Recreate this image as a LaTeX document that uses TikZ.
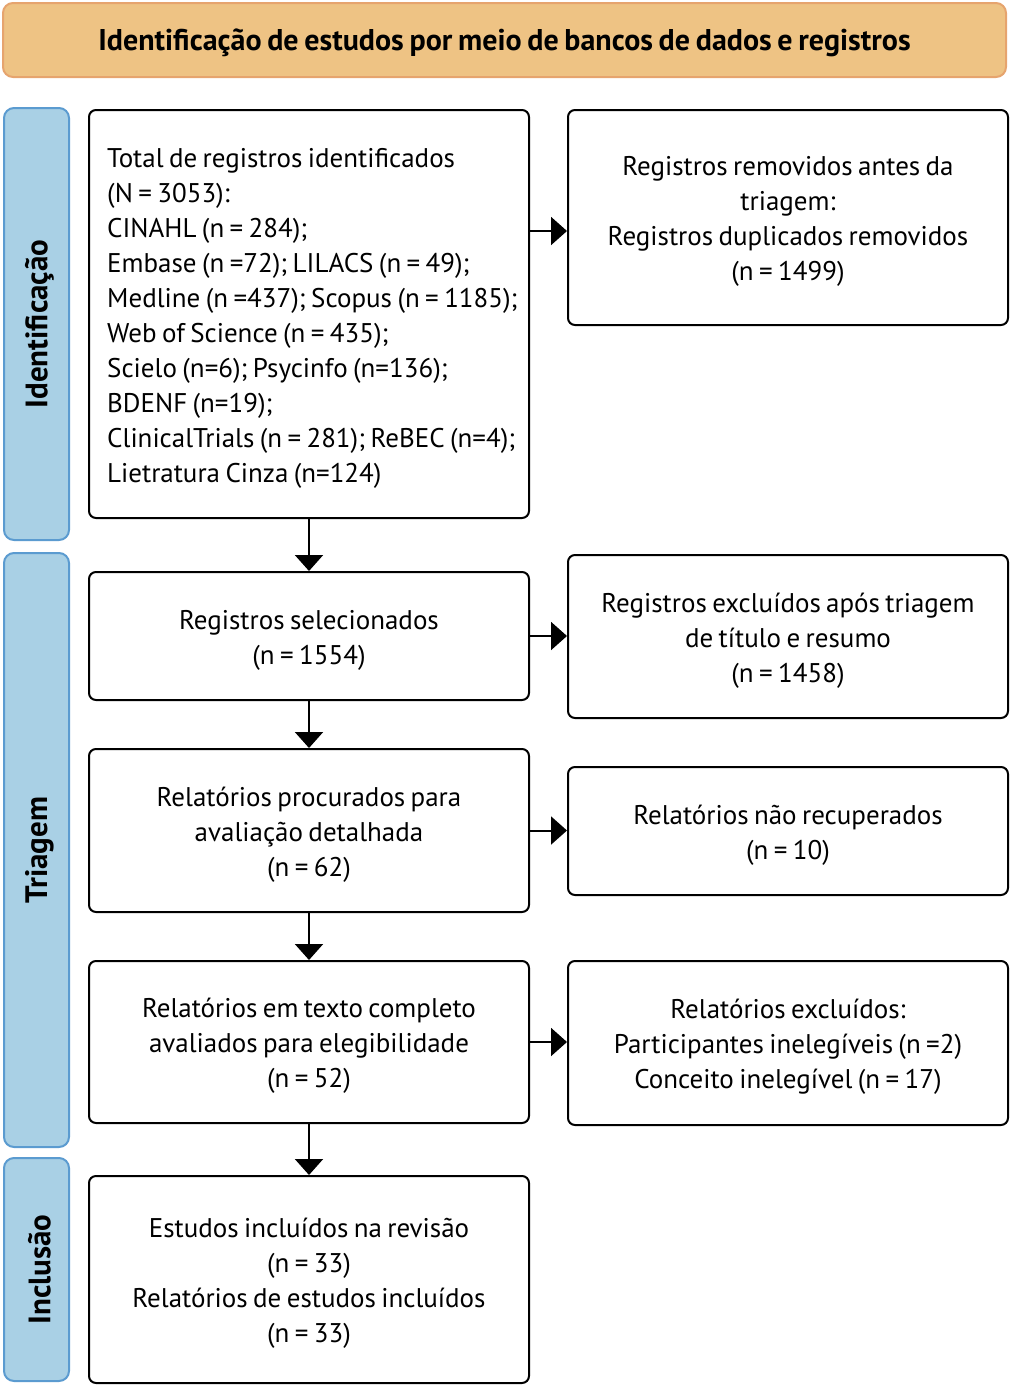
\documentclass[tikz,border=0pt]{standalone}
\usepackage{fontspec}
\setmainfont[WordSpace=0.75]{PT Sans}
\usetikzlibrary{arrows.meta}
\definecolor{hdrfill}{HTML}{EEC384}
\definecolor{hdrline}{HTML}{E6A46E}
\definecolor{sidefill}{HTML}{A9D0E5}
\definecolor{sideline}{HTML}{5B9BD0}
\begin{document}
\begin{tikzpicture}[x=1pt,y=-1pt,
  box/.style={draw=black,line width=2pt,rounded corners=7pt,fill=white,inner sep=0pt,minimum width=440pt},
  txt/.style={align=center,font=\fontsize{27}{35}\selectfont,inner sep=0pt},
  side/.style={draw=sideline,line width=2pt,rounded corners=10pt,fill=sidefill,minimum width=65pt,inner sep=0pt},
  sidelbl/.style={rotate=90,font=\fontsize{31}{34}\selectfont\bfseries,inner sep=0pt},
  arr/.style={line width=2pt,-{Triangle[length=16pt,width=28pt]}}]
\useasboundingbox (0,0) rectangle (1010,1385);
% header
\node[draw=hdrline,line width=2pt,rounded corners=10pt,fill=hdrfill,minimum width=1003pt,minimum height=74pt,inner sep=0pt] (hdr) at (504.5,40) {};
\node[font=\fontsize{30}{34}\selectfont\bfseries,inner sep=0pt] (hdrt) at ([yshift=-3pt]hdr.center) {Identificação de estudos por meio de bancos de dados e registros};
% side bars
\node[side,minimum height=432pt] (s1) at (36.5,324) {};
\node[sidelbl] (s1l) at ([xshift=3pt]s1.center) {Identificação};
\node[side,minimum height=594pt] (s2) at (36.5,850) {};
\node[sidelbl] (s2l) at ([xshift=3pt]s2.center) {Triagem};
\node[side,minimum height=223pt] (s3) at (36.5,1269.5) {};
\node[sidelbl] (s3l) at ([xshift=3pt]s3.center) {Inclusão};
% left column
\node[box,minimum height=408pt] (b1) at (309,314) {};
\node[txt,align=left,anchor=west] (b1t) at (107,318.5) {Total de registros identificados\\(N = 3053):\\CINAHL (n = 284);\\Embase (n =72); LILACS (n = 49);\\Medline (n =437); Scopus (n = 1185);\\Web of Science (n = 435);\\Scielo (n=6); Psycinfo (n=136);\\BDENF (n=19);\\ClinicalTrials (n = 281); ReBEC (n=4);\\Lietratura Cinza (n=124)};
\node[box,minimum height=128pt] (b2) at (309,636) {};
\node[txt] (b2t) at ([yshift=-4pt]b2.center) {Registros selecionados\\(n = 1554)};
\node[box,minimum height=163pt] (b3) at (309,830.5) {};
\node[txt] (b3t) at ([yshift=-4pt]b3.center) {Relatórios procurados para\\avaliação detalhada\\(n = 62)};
\node[box,minimum height=162pt] (b4) at (309,1042) {};
\node[txt] (b4t) at ([yshift=-4pt]b4.center) {Relatórios em texto completo\\avaliados para elegibilidade\\(n = 52)};
\node[box,minimum height=207pt] (b5) at (309,1279.5) {};
\node[txt] (b5t) at ([yshift=-4pt]b5.center) {Estudos incluídos na revisão\\(n = 33)\\Relatórios de estudos incluídos\\(n = 33)};
% right column
\node[box,minimum height=215pt] (r1) at (788,217.5) {};
\node[txt] (r1t) at ([yshift=-4pt]r1.center) {Registros removidos antes da\\triagem:\\Registros duplicados removidos\\(n = 1499)};
\node[box,minimum height=163pt] (r2) at (788,636.5) {};
\node[txt] (r2t) at ([yshift=-4pt]r2.center) {Registros excluídos após triagem\\de título e resumo\\(n = 1458)};
\node[box,minimum height=128pt] (r3) at (788,831) {};
\node[txt] (r3t) at ([yshift=-4pt]r3.center) {Relatórios não recuperados\\(n = 10)};
\node[box,minimum height=164pt] (r4) at (788,1043) {};
\node[txt] (r4t) at ([yshift=-4pt]r4.center) {Relatórios excluídos:\\Participantes inelegíveis (n =2)\\Conceito inelegível (n = 17)};
% arrows
\coordinate (a1) at (529,231);
\draw[arr] (a1) -- (a1 -| r1.west);
\draw[arr] (b2.east) -- (b2.east -| r2.west);
\draw[arr] (b3.east) -- (b3.east -| r3.west);
\draw[arr] (b4.east) -- (b4.east -| r4.west);
\draw[arr] (b1.south) -- (b2.north);
\draw[arr] (b2.south) -- (b3.north);
\draw[arr] (b3.south) -- (b4.north);
\draw[arr] (b4.south) -- (b5.north);
\end{tikzpicture}
\end{document}
